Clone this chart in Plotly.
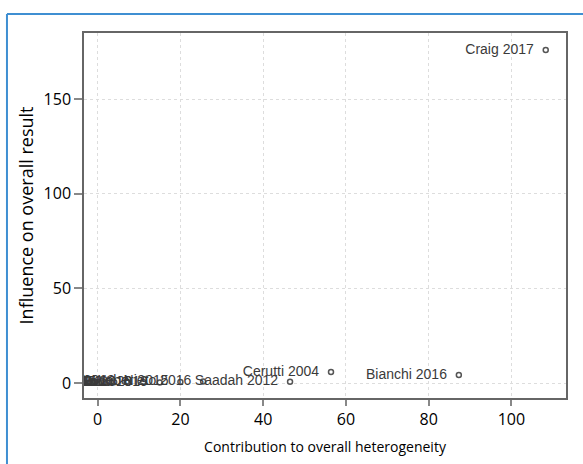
import plotly.graph_objects as go

studies = ["Kaur 2015", "Moro 2014", "Spinnler 2013", "Ricci 2019", "Agostini 2018",
           "Pereira 2013", "Lenz 2016", "Bauer 2014", "Costa 2017", "Rossi 2015",
           "Ferri 2012", "Meyer 2013", "Gallo 2016", "Conti 2019", "Weber 2015",
           "Nieto 2016",
           "Saadah 2012", "Cerutti 2004", "Bianchi 2016", "Craig 2017"]
heterogeneity = [-2.2, -1.8, -1.5, -1.0, -0.6, -0.2, 0.3, 0.8, 1.5, 2.5,
                 4.0, 7.0, 11.0, 15.0, 20.0,
                 25.5,
                 46.5, 56.4, 87.3, 108.3]
influence = [0.2, 0.1, 0.3, 0.5, 0.2, 0.6, 0.4, 0.3, 0.5, 0.2,
             0.4, 0.6, 0.5, 0.3, 0.6,
             0.8,
             0.7, 5.8, 4.2, 176.0]

x_ticks = [0, 20, 40, 60, 80, 100]
y_ticks = [0, 50, 100, 150]

fig = go.Figure()
fig.add_trace(go.Scatter(
    x=heterogeneity, y=influence, mode="markers+text",
    text=[s + "  " for s in studies], textposition="middle left",
    textfont=dict(family="Liberation Sans, Arial", size=14, color="#3a3a3a"),
    marker=dict(symbol="circle-open", size=5, color="#555555",
                line=dict(width=1.5, color="#555555")),
    cliponaxis=True, showlegend=False,
))

axis_common = dict(
    showline=True, linecolor="#666666", linewidth=1.5, mirror=True,
    tickwidth=1.5, tickcolor="#888888", ticks="outside",
    showgrid=True, gridcolor="#dddddd", griddash="dot", gridwidth=1,
    zeroline=False,
    tickfont=dict(family="Open Sans", size=16, color="#000000"),
)

fig.update_xaxes(range=[-3.3, 113.2], tickvals=x_ticks, ticklen=6,
                 title_text="Contribution to overall heterogeneity",
                 title_font=dict(family="Open Sans", size=14, color="#000000"),
                 title_standoff=13, **axis_common)
fig.update_yaxes(range=[-7.9, 185], tickvals=y_ticks, ticklen=8,
                 title_text="Influence on overall result",
                 title_font=dict(family="Open Sans", size=18, color="#000000"),
                 title_standoff=5, **axis_common)

blue = "#3f8fd2"
fig.add_shape(type="line", xref="paper", yref="paper",
              x0=-0.1598, x1=1.1, y0=1.052, y1=1.052,
              line=dict(color=blue, width=2))
fig.add_shape(type="line", xref="paper", yref="paper",
              x0=-0.1598, x1=-0.1598, y0=1.052, y1=-0.3,
              line=dict(color=blue, width=2))

fig.update_layout(
    width=583, height=464,
    margin=dict(l=84, r=17, t=33, b=66),
    paper_bgcolor="white", plot_bgcolor="white",
)

fig.write_html("out.html")
